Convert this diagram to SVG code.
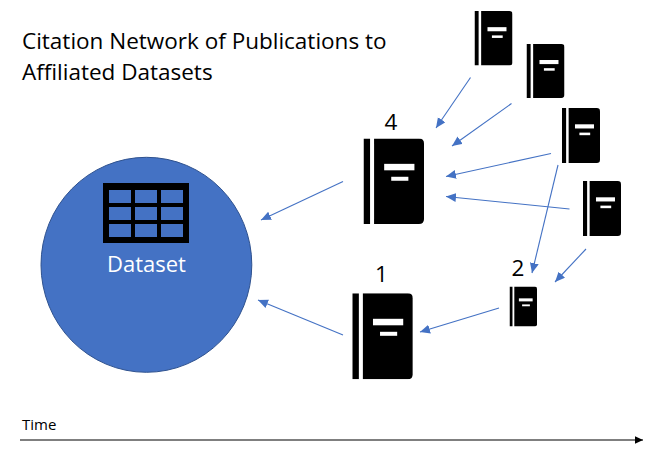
<svg xmlns="http://www.w3.org/2000/svg" width="663" height="453" viewBox="0 0 663 453">
<style>
.t{font-family:"Open Sans","Liberation Sans",sans-serif;fill:#000}
.c{stroke:#4472c4;stroke-width:1.1;fill:none;marker-end:url(#a)}
</style>
<defs>
<marker id="a" markerUnits="userSpaceOnUse" markerWidth="12" markerHeight="10" refX="10" refY="4.5" orient="auto"><path d="M0 0L10 4.500L0 9z" fill="#4472c4"/></marker>
<marker id="b" markerUnits="userSpaceOnUse" markerWidth="10" markerHeight="9" refX="8.500" refY="4" orient="auto"><path d="M0 0L8.500 4L0 8z" fill="#000"/></marker>
<symbol id="book" viewBox="0 0 60 86" preserveAspectRatio="none">
<rect width="6.500" height="86" fill="#000"/>
<path d="M10.500 0H55Q60 0 60 5V81Q60 86 55 86H10.500z" fill="#000"/>
<rect x="20.500" y="25.500" width="30" height="6.500" fill="#fff"/>
<rect x="27.500" y="38.500" width="17" height="4" fill="#fff"/>
</symbol>
</defs>
<rect width="663" height="453" fill="#fff"/>
<g id="title"><text class="t" x="22" y="49" font-size="22.500">Citation Network of Publications to</text><text class="t" x="22" y="80" font-size="22.500">Affiliated Datasets</text></g>
<g id="dataset">
<ellipse cx="146.400" cy="264.800" rx="105.400" ry="107.500" fill="#4472c4" stroke="#2f528f"/>
<rect x="103" y="183" width="86" height="60" fill="#000"/>
<g fill="#4472c4"><rect x="109" y="190" width="22" height="13"/><rect x="135" y="190" width="22" height="13"/><rect x="161" y="190" width="22" height="13"/><rect x="109" y="207" width="22" height="13"/><rect x="135" y="207" width="22" height="13"/><rect x="161" y="207" width="22" height="13"/><rect x="109" y="224" width="22" height="13"/><rect x="135" y="224" width="22" height="13"/><rect x="161" y="224" width="22" height="13"/></g>
<text x="146.500" y="272" text-anchor="middle" font-size="22" font-family="'Open Sans','Liberation Sans',sans-serif" fill="#fff">Dataset</text>
</g>
<g id="pub-4"><use href="#book" x="363.500" y="138.500" width="60.500" height="85.500"/><text class="t" x="391" y="130" text-anchor="middle" font-size="22.500">4</text></g>
<g id="pub-1"><use href="#book" x="352.300" y="293.300" width="60.500" height="86"/><text class="t" x="381.500" y="282" text-anchor="middle" font-size="22.500">1</text></g>
<g id="pub-2"><use href="#book" x="509.500" y="286.500" width="27.500" height="40"/><text class="t" x="518" y="276" text-anchor="middle" font-size="22.500">2</text></g>
<g id="pub-a"><use href="#book" x="474.500" y="11" width="38" height="54.500"/></g>
<g id="pub-b"><use href="#book" x="526.500" y="44" width="38" height="54"/></g>
<g id="pub-c"><use href="#book" x="562" y="108" width="38" height="55"/></g>
<g id="pub-d"><use href="#book" x="583" y="181" width="38" height="55"/></g>
<g id="connectors">
<line class="c" x1="470.500" y1="77.500" x2="436" y2="128"/>
<line class="c" x1="511.500" y1="103.500" x2="452" y2="146"/>
<line class="c" x1="551" y1="153.500" x2="446" y2="176.500"/>
<line class="c" x1="569.500" y1="209" x2="446" y2="196.500"/>
<line class="c" x1="558" y1="165" x2="532" y2="273"/>
<line class="c" x1="586" y1="249" x2="555" y2="282"/>
<line class="c" x1="499" y1="308" x2="420" y2="332"/>
<line class="c" x1="343" y1="335" x2="258" y2="300"/>
<line class="c" x1="343" y1="181.500" x2="261" y2="220"/>
</g>
<g id="timeline"><text class="t" x="22" y="430" font-size="15">Time</text><line x1="20" y1="440" x2="643" y2="440" stroke="#000" stroke-width="1.200" marker-end="url(#b)"/></g>
</svg>
